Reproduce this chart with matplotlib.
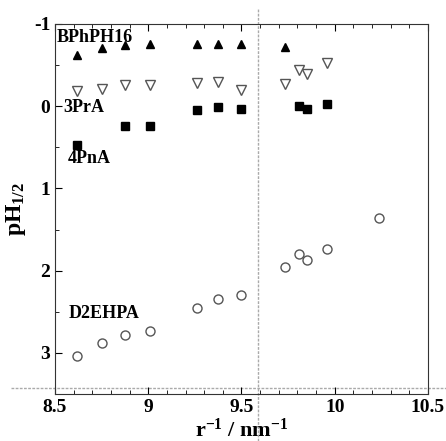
import matplotlib
matplotlib.use("Agg")
import matplotlib.pyplot as plt
from matplotlib.ticker import MultipleLocator

plt.rcParams['font.family'] = 'Liberation Serif'
plt.rcParams['font.weight'] = 'bold'
plt.rcParams['mathtext.default'] = 'regular'

# BPhPH16 (filled triangles)
x_bph = [8.62, 8.75, 8.875, 9.01, 9.26, 9.375, 9.495, 9.735]
y_bph = [-0.62, -0.71, -0.75, -0.76, -0.76, -0.76, -0.76, -0.72]

# 3PrA (open down triangles)
x_3pr = [8.62, 8.75, 8.875, 9.01, 9.26, 9.375, 9.495, 9.735, 9.81, 9.85, 9.96]
y_3pr = [-0.19, -0.21, -0.26, -0.26, -0.28, -0.29, -0.20, -0.27, -0.44, -0.39, -0.52]

# 4PnA (filled squares)
x_4pn = [8.62, 8.875, 9.01, 9.26, 9.375, 9.495, 9.81, 9.85, 9.96]
y_4pn = [0.47, 0.245, 0.235, 0.04, 0.015, 0.03, 0.0, 0.03, -0.03]

# D2EHPA (open circles)
x_d2 = [8.62, 8.75, 8.875, 9.01, 9.26, 9.375, 9.495, 9.735, 9.81, 9.85, 9.96, 10.235]
y_d2 = [3.04, 2.88, 2.78, 2.73, 2.45, 2.35, 2.30, 1.95, 1.80, 1.87, 1.74, 1.355]

fig = plt.figure(figsize=(4.46, 4.41), dpi=100)
ax = fig.add_axes([0.1233, 0.1066, 0.8363, 0.8390])

ax.plot(x_bph, y_bph, '^', color='black', markersize=6, linestyle='none')
ax.plot(x_3pr, y_3pr, 'v', markerfacecolor='white', markeredgecolor='#555555',
        markeredgewidth=1.0, markersize=7, linestyle='none')
ax.plot(x_4pn, y_4pn, 's', color='black', markersize=5.5, linestyle='none')
ax.plot(x_d2, y_d2, 'o', markerfacecolor='none', markeredgecolor='#555555',
        markeredgewidth=1.0, markersize=6.5, linestyle='none')

ax.set_xlim(8.5, 10.5)
ax.set_ylim(3.5, -1)

# dotted guide lines, running outside the frame
ax.axvline(9.59, ymin=-0.127, ymax=1.04, color='#aaaaaa', linestyle=(0, (2, 1)),
           linewidth=1, clip_on=False, zorder=0)
ax.axhline(3.43, xmin=-0.118, xmax=1.05, color='#aaaaaa', linestyle=(0, (2, 1)),
           linewidth=1, clip_on=False, zorder=0)

ax.xaxis.set_major_locator(MultipleLocator(0.5))
ax.xaxis.set_minor_locator(MultipleLocator(0.1))
ax.yaxis.set_major_locator(MultipleLocator(1))
ax.yaxis.set_minor_locator(MultipleLocator(0.5))
ax.set_xticks([8.5, 9, 9.5, 10, 10.5])
ax.set_xticklabels(['8.5', '9', '9.5', '10', '10.5'])
ax.set_yticks([-1, 0, 1, 2, 3])
ax.set_yticklabels(['-1', '0', '1', '2', '3'])
ax.tick_params(which='both', direction='in', top=True, right=False, labelsize=14)
ax.tick_params(which='major', length=5, width=0.8)
ax.tick_params(which='minor', length=3, width=0.6)
for s in ax.spines.values():
    s.set_color('#333333')

ax.text(8.51, -0.83, 'BPhPH16', fontsize=13, fontweight='bold', va='center', ha='left')
ax.text(8.545, 0.02, '3PrA', fontsize=13, fontweight='bold', va='center', ha='left')
ax.text(8.57, 0.63, '4PnA', fontsize=13, fontweight='bold', va='center', ha='left')
ax.text(8.575, 2.52, 'D2EHPA', fontsize=13, fontweight='bold', va='center', ha='left')

ax.set_ylabel('pH$_{1/2}$', fontsize=17, fontweight='bold', labelpad=4)
ax.set_xlabel('r$^{-1}$ / nm$^{-1}$', fontsize=16, fontweight='bold', labelpad=2)

fig.savefig('out.png', dpi=100)
